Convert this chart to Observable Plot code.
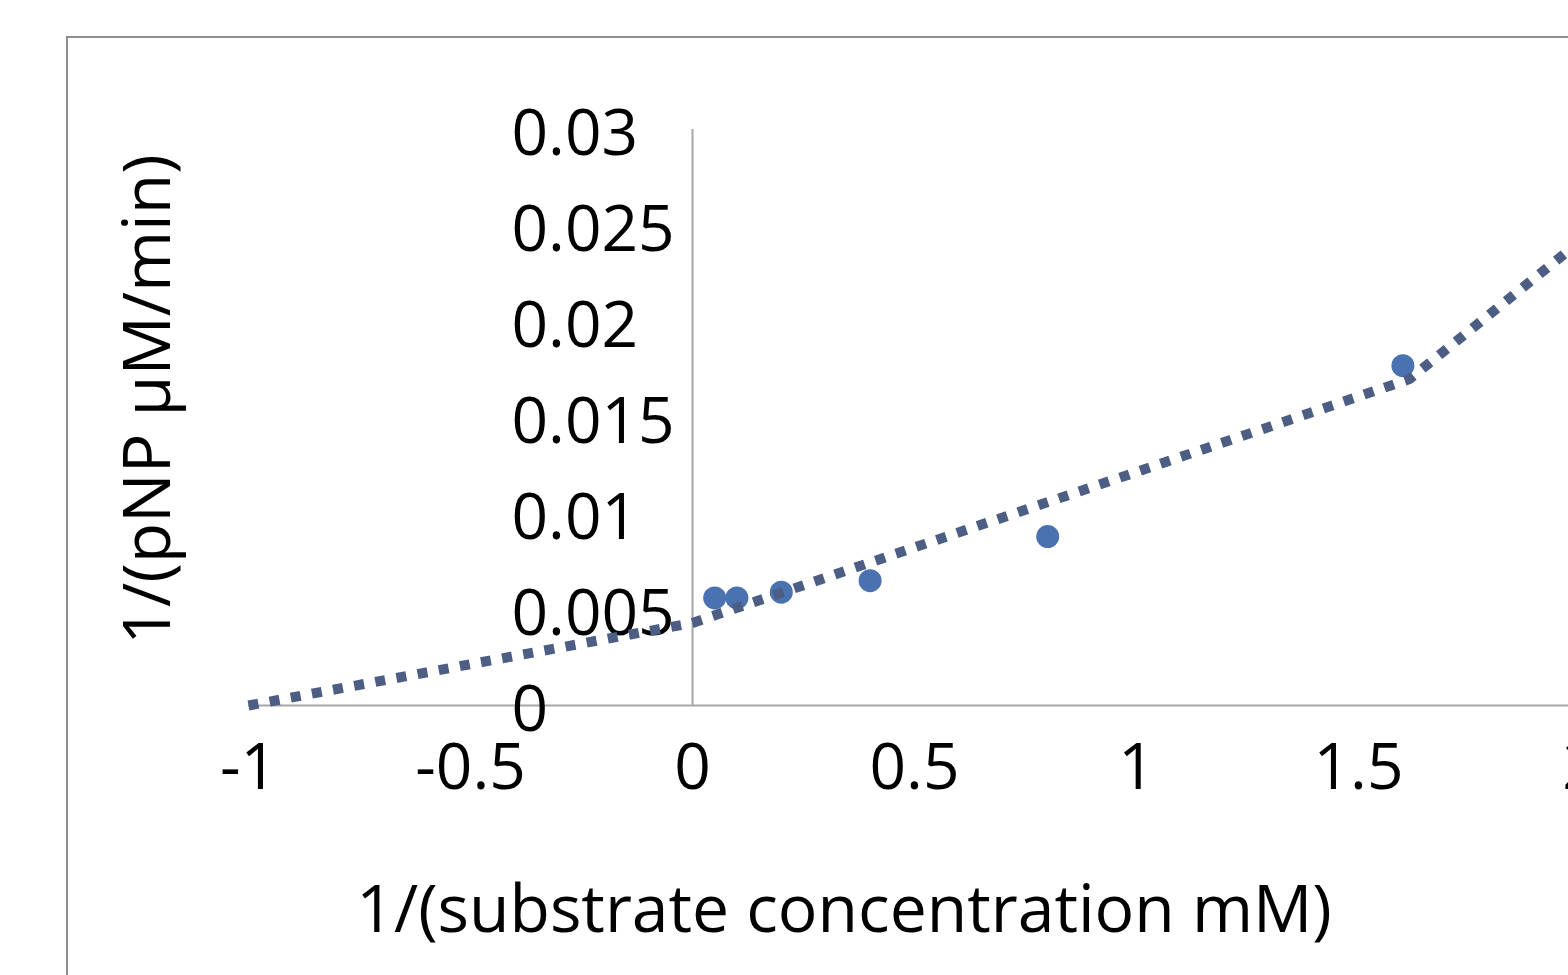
<!DOCTYPE html>
<html>
<head>
<meta charset="utf-8">
<script src="https://cdn.jsdelivr.net/npm/d3@7"></script>
<script src="https://cdn.jsdelivr.net/npm/@observablehq/plot@0.6"></script>
<style>
  html, body { margin: 0; padding: 0; background: #fff; overflow: hidden; }
  #wrap { position: relative; width: 1568px; height: 975px; }
  #border { position: absolute; left: 66px; top: 36px; width: 1600px; height: 1000px;
            border-left: 2px solid #8f8f8f; border-top: 2px solid #8f8f8f; }
  #chart { position: absolute; left: 0; top: 0; }
</style>
</head>
<body>
<div id="wrap"><div id="border"></div><div id="chart"></div></div>
<script>
// Data points (1/[S] in 1/mM, 1/v)
const invSubstrate = [0.05, 0.1, 0.2, 0.4, 0.8, 1.6];
const invRate = [0.0056, 0.0056, 0.0059, 0.0065, 0.0088, 0.0177];

// Dotted trend line vertices
const trendX = [-1, 0, 1.615, 2.0];
const trendY = [0, 0.0043, 0.0170, 0.0242];

// Tick labels
const xTicks = [-1, -0.5, 0, 0.5, 1, 1.5, 2];
const xTickLabels = ["-1", "-0.5", "0", "0.5", "1", "1.5", "2"];
const yTicks = [0, 0.005, 0.01, 0.015, 0.02, 0.025, 0.03];
const yTickLabels = ["0", "0.005", "0.01", "0.015", "0.02", "0.025", "0.03"];

const xTitle = "1/(substrate concentration mM)";
const yTitle = "1/(pNP µM/min)";

const points = invSubstrate.map((x, i) => ({x, y: invRate[i]}));
const trend = trendX.map((x, i) => ({x, y: trendY[i]}));

const font = "'Open Sans', sans-serif";
const fs = 64;

const chart = Plot.plot({
  width: 1568,
  height: 975,
  marginLeft: 511,
  marginTop: 129,
  marginBottom: 270,
  marginRight: 0,
  style: {fontFamily: font, background: "transparent", overflow: "hidden"},
  x: {domain: [-1, 2], range: [248, 1580], axis: null, label: null},
  y: {domain: [0, 0.03], range: [705, 129], axis: null, label: null},
  marks: [
    Plot.ruleY([0], {x1: -1, x2: 2.2, stroke: "#a6a6a6", strokeWidth: 2.2}),
    Plot.ruleX([0], {y1: 0, y2: 0.03, stroke: "#a6a6a6", strokeWidth: 2}),
    Plot.axisY(yTicks, {anchor: "left", label: null, tickSize: 0, tickPadding: 0, textAnchor: "start",
      fontSize: fs, fill: "#000", dy: 5, tickFormat: (d, i) => yTickLabels[i]}),
    Plot.axisX(xTicks, {anchor: "bottom", label: null, tickSize: 0, tickPadding: 38,
      fontSize: fs, fill: "#000", tickFormat: (d, i) => xTickLabels[i]}),
    Plot.dot(points, {x: "x", y: "y", r: 11.5, fill: "#4a71b0", stroke: "none"}),
    Plot.line(trend, {x: "x", y: "y", stroke: "#4d5e85", strokeWidth: 10,
      strokeDasharray: "10 11.5", strokeLinecap: "butt", strokeLinejoin: "miter"}),
    Plot.text([xTitle], {frameAnchor: "bottom", fontSize: 66, fill: "#000",
      textAnchor: "middle", lineAnchor: "middle", dx: -196, dy: 205}),
    Plot.text([yTitle], {frameAnchor: "left", fontSize: 66, fill: "#000",
      rotate: -90, textAnchor: "middle", lineAnchor: "middle", dx: -363, dy: -18})
  ]
});
document.getElementById("chart").appendChild(chart);
</script>
</body>
</html>
